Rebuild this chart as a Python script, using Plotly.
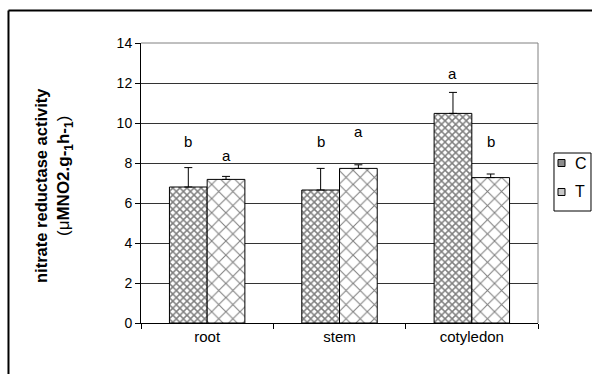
import plotly.graph_objects as go

categories = ["root", "stem", "cotyledon"]
c_values = [6.8, 6.65, 10.48]
c_errors = [0.97, 1.08, 1.05]
t_values = [7.18, 7.73, 7.27]
t_errors = [0.15, 0.18, 0.18]
c_letters = ["b", "b", "a"]
c_letter_y = [9.1, 9.1, 12.5]
t_letters = ["a", "a", "b"]
t_letter_y = [8.4, 9.6, 9.1]
y_ticks = [0, 2, 4, 6, 8, 10, 12, 14]

FONT = "Liberation Sans, Arial, sans-serif"

fig = go.Figure()
fig.add_trace(go.Bar(
    name="C", x=categories, y=c_values,
    marker=dict(color="white", line=dict(color="black", width=1),
                pattern=dict(shape="x", size=5, solidity=0.5, fgcolor="black", bgcolor="white")),
    error_y=dict(type="data", array=c_errors, arrayminus=[0]*3, symmetric=False,
                 color="black", thickness=1, width=4),
))
fig.add_trace(go.Bar(
    name="T", x=categories, y=t_values,
    marker=dict(color="white", line=dict(color="black", width=1),
                pattern=dict(shape="x", size=10, solidity=0.2, fgcolor="black", bgcolor="white")),
    error_y=dict(type="data", array=t_errors, arrayminus=[0]*3, symmetric=False,
                 color="black", thickness=1, width=4),
))

annotations = []
for cat, txt, yv in zip(categories, c_letters, c_letter_y):
    annotations.append(dict(x=cat, y=yv, text=txt, showarrow=False, xshift=-19,
                            yanchor="middle", font=dict(size=15, color="black", family=FONT)))
for cat, txt, yv in zip(categories, t_letters, t_letter_y):
    annotations.append(dict(x=cat, y=yv, text=txt, showarrow=False, xshift=19,
                            yanchor="middle", font=dict(size=15, color="black", family=FONT)))

# y-axis title (two lines)
annotations.append(dict(xref="paper", yref="paper", x=-0.2519, y=0.493, text="<b>nitrate reductase activity</b>",
                        textangle=-90, showarrow=False, xanchor="center", yanchor="middle",
                        font=dict(size=16.5, color="black", family=FONT)))
annotations.append(dict(xref="paper", yref="paper", x=-0.1914, y=0.525,
                        text="(μ<b>MNO2.g-<sub>1</sub>h-<sub>1</sub></b>)",
                        textangle=-90, showarrow=False, xanchor="center", yanchor="middle",
                        font=dict(size=17, color="black", family=FONT)))

# manual legend labels
annotations.append(dict(xref="paper", yref="paper", x=1.088, y=0.5714, text="C", showarrow=False,
                        xanchor="left", yanchor="middle", font=dict(size=16, color="black", family=FONT)))
annotations.append(dict(xref="paper", yref="paper", x=1.088, y=0.4679, text="T", showarrow=False,
                        xanchor="left", yanchor="middle", font=dict(size=16, color="black", family=FONT)))

shapes = [
    # outer chart frame (top and left visible)
    dict(type="line", xref="paper", yref="paper", x0=-0.3338, x1=1.2, y0=1.1161, y1=1.1161,
         line=dict(color="black", width=2)),
    dict(type="line", xref="paper", yref="paper", x0=-0.3338, x1=-0.3338, y0=1.1161, y1=-0.25,
         line=dict(color="black", width=2)),
    # plot area border top/right
    dict(type="line", xref="paper", yref="paper", x0=0, x1=1, y0=1, y1=1,
         line=dict(color="#808080", width=1)),
    dict(type="line", xref="paper", yref="paper", x0=1, x1=1, y0=0, y1=1,
         line=dict(color="#808080", width=1)),
    # legend box
    dict(type="rect", xref="paper", yref="paper", x0=1.0403, x1=1.1335, y0=0.4, y1=0.6071,
         line=dict(color="black", width=1), fillcolor="white"),
    dict(type="rect", xref="paper", yref="paper", x0=1.0504, x1=1.0680, y0=0.5589, y1=0.5839,
         line=dict(color="black", width=1), fillcolor="#8c8c8c"),
    dict(type="rect", xref="paper", yref="paper", x0=1.0504, x1=1.0680, y0=0.4554, y1=0.4804,
         line=dict(color="black", width=1), fillcolor="#c8c8c8"),
]

fig.update_layout(
    width=592, height=374,
    margin=dict(l=141, r=54, t=43, b=51),
    paper_bgcolor="white", plot_bgcolor="white",
    barmode="group", bargap=0.43, bargroupgap=0,
    showlegend=False,
    font=dict(family=FONT, size=14, color="black"),
    annotations=annotations,
    shapes=shapes,
    xaxis=dict(type="category", showline=True, linecolor="black", linewidth=1,
               ticks="outside", ticklen=5, tickcolor="black", tickson="boundaries",
               tickfont=dict(size=15, family=FONT), showgrid=False, zeroline=False),
    yaxis=dict(range=[0, 14], tickvals=y_ticks, showline=True, linecolor="black", linewidth=1,
               ticks="outside", ticklen=5, tickcolor="black",
               tickfont=dict(size=14, family=FONT), showgrid=True, gridcolor="#333333",
               gridwidth=1, zeroline=False),
)

fig.write_html("out.html", config={"displayModeBar": False},
               post_script="document.body.style.margin='0px';")
